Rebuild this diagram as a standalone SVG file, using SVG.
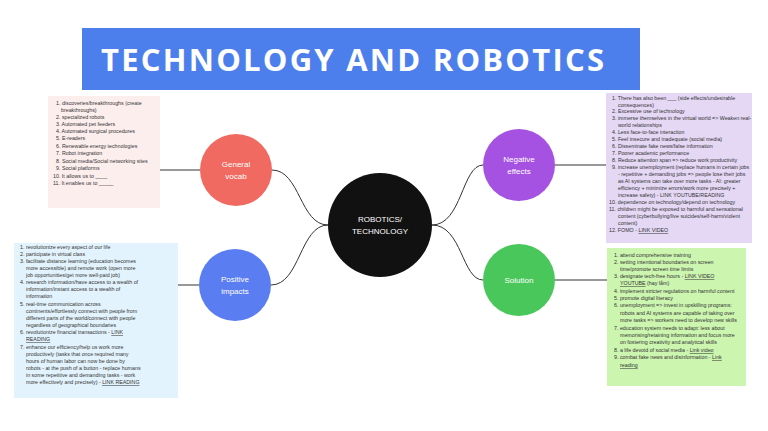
<svg xmlns="http://www.w3.org/2000/svg" width="768" height="431" viewBox="0 0 768 431">
<style>
.n{font-family:"Liberation Sans",Arial,sans-serif;font-size:5.3px;fill:#333}
.u{text-decoration:underline}
.c{font-family:"Liberation Sans",Arial,sans-serif;font-size:8px;fill:#fff;text-anchor:middle}
.l{fill:none;stroke:#333;stroke-width:1}
</style>
<rect width="768" height="431" fill="#fff"/>
<g id="title"><rect x="82" y="28" width="558" height="62" fill="#4d7fec"/>
<text x="101" y="71" textLength="503" lengthAdjust="spacing" font-family="'Open Sans','Liberation Sans',sans-serif" font-weight="bold" font-size="31" fill="#fff">TECHNOLOGY AND ROBOTICS</text></g>
<g id="connectors">
<path class="l" d="M328,225 C300,225 300,170 272,170"/>
<path class="l" d="M328,225 C300,225 300,285 271,285"/>
<path class="l" d="M432,225 C462,225 462,165 483,165"/>
<path class="l" d="M432,225 C462,225 462,280 483,280"/>
<path class="l" d="M200,170 H160"/>
<path class="l" d="M199,285 H178"/>
<path class="l" d="M555,165 H606"/>
<path class="l" d="M555,280 H607"/>
</g>
<g id="center"><circle cx="380" cy="225" r="52" fill="#111"/><text class="c" x="380" y="222">ROBOTICS/</text><text class="c" x="380" y="234">TECHNOLOGY</text></g>
<g id="general"><circle cx="236" cy="170" r="36" fill="#f06a61"/><text class="c" x="236" y="167">General</text><text class="c" x="236" y="179">vocab</text></g>
<g id="positive"><circle cx="235" cy="285" r="36" fill="#5b7df2"/><text class="c" x="235" y="282">Positive</text><text class="c" x="235" y="294">impacts</text></g>
<g id="negative"><circle cx="519" cy="165" r="36" fill="#a552e2"/><text class="c" x="519" y="162">Negative</text><text class="c" x="519" y="174">effects</text></g>
<g id="solution"><circle cx="519" cy="280" r="36" fill="#49c75a"/><text class="c" x="519" y="283">Solution</text></g>
<g id="note-vocab"><rect x="48" y="96" width="112" height="112" fill="#fdeeee"/>
<g class="n">
<text x="56" y="105">1. discoveries/breakthroughs (create</text>
<text x="61" y="112">breakthroughs)</text>
<text x="56" y="119">2. specialized robots</text>
<text x="56" y="126">3. Automated pet feeders</text>
<text x="56" y="133">4. Automated surgical procedures</text>
<text x="56" y="140">5. E-readers</text>
<text x="56" y="148">6. Renewable energy technologies</text>
<text x="56" y="155">7. Robot integration</text>
<text x="56" y="163">8. Social media/Social networking sites</text>
<text x="56" y="170">9. Social platforms</text>
<text x="53" y="178">10. It allows us to ____</text>
<text x="53" y="185">11. It enables us to _____</text>
</g></g>
<g id="note-positive"><rect x="14" y="243" width="164" height="155" fill="#e3f3fd"/>
<g class="n">
<text x="20" y="249">1. revolutionize every aspect of our life</text>
<text x="20" y="256">2. participate in virtual class</text>
<text x="20" y="263">3. facilitate distance learning (education becomes</text>
<text x="26" y="270">more accessible) and remote work (open more</text>
<text x="26" y="277">job opportunities/get more well-paid job)</text>
<text x="20" y="284">4. research information/have access to a wealth of</text>
<text x="26" y="291">information/instant access to a wealth of</text>
<text x="26" y="298">information</text>
<text x="20" y="306">5. real-time communication across</text>
<text x="26" y="313">continents/effortlessly connect with people from</text>
<text x="26" y="320">different parts of the world/connect with people</text>
<text x="26" y="327">regardless of geographical boundaries</text>
<text x="20" y="334">6. revolutionize financial transactions - <tspan class="u">LINK</tspan></text>
<text x="26" y="341" class="n u">READING</text>
<text x="20" y="349">7. enhance our efficiency/help us work more</text>
<text x="26" y="356">productively (tasks that once required many</text>
<text x="26" y="363">hours of human labor can now be done by</text>
<text x="26" y="370">robots - at the push of a button - replace humans</text>
<text x="26" y="377">in some repetitive and demanding tasks - work</text>
<text x="26" y="384">more effectively and precisely) - <tspan class="u">LINK READING</tspan></text>
</g></g>
<g id="note-negative"><rect x="606" y="93" width="146" height="150" fill="#e4d8f5"/>
<g class="n">
<text x="612" y="100">1. There has also been ___ (side effects/undesirable</text>
<text x="618" y="107">consequences)</text>
<text x="612" y="113">2. Excessive use of technology</text>
<text x="612" y="120">3. immerse themselves in the virtual world =&gt; Weaken real-</text>
<text x="618" y="127">world relationships</text>
<text x="612" y="134">4. Less face-to-face interaction</text>
<text x="612" y="141">5. Feel insecure and inadequate (social media)</text>
<text x="612" y="148">6. Disseminate fake news/false information</text>
<text x="612" y="155">7. Poorer academic performance</text>
<text x="612" y="162">8. Reduce attention span =&gt; reduce work productivity</text>
<text x="612" y="169">9. increase unemployment (replace humans in certain jobs</text>
<text x="618" y="176">- repetitive + demanding jobs =&gt; people lose their jobs</text>
<text x="618" y="183">as AI systems can take over more tasks - AI: greater</text>
<text x="618" y="190">efficiency + minimize errors/work more precisely +</text>
<text x="618" y="197">increase safety) - LINK YOUTUBE/READING</text>
<text x="609" y="204">10. dependence on technology/depend on technology</text>
<text x="609" y="211">11. children might be exposed to harmful and sensational</text>
<text x="618" y="218">content (cyberbullying/live suicides/self-harm/violent</text>
<text x="618" y="225">content)</text>
<text x="609" y="232">12. FOMO - <tspan class="u">LINK VIDEO</tspan></text>
</g></g>
<g id="note-solution"><rect x="607" y="248" width="139" height="138" fill="#ccf5b0"/>
<g class="n">
<text x="614" y="257">1. attend comprehensive training</text>
<text x="614" y="264">2. setting intentional boundaries on screen</text>
<text x="620" y="271">time/promote screen time limits</text>
<text x="614" y="278">3. designate tech-free hours - <tspan class="u">LINK VIDEO</tspan></text>
<text x="620" y="285"><tspan class="u">YOUTUBE</tspan> (hay lắm)</text>
<text x="614" y="293">4. implement stricter regulations on harmful content</text>
<text x="614" y="300">5. promote digital literacy</text>
<text x="614" y="307">6. unemployment =&gt; invest in upskilling programs:</text>
<text x="620" y="315">robots and AI systems are capable of taking over</text>
<text x="620" y="322">more tasks =&gt; workers need to develop new skills</text>
<text x="614" y="330">7. education system needs to adapt: less about</text>
<text x="620" y="337">memorising/retaining information and focus more</text>
<text x="620" y="344">on fostering creativity and analytical skills</text>
<text x="614" y="352">8. a life devoid of social media - <tspan class="u">Link video</tspan></text>
<text x="614" y="359">9.  combat fake news and disinformation - <tspan class="u">Link</tspan></text>
<text x="620" y="367" class="n u">reading</text>
</g></g>
</svg>
